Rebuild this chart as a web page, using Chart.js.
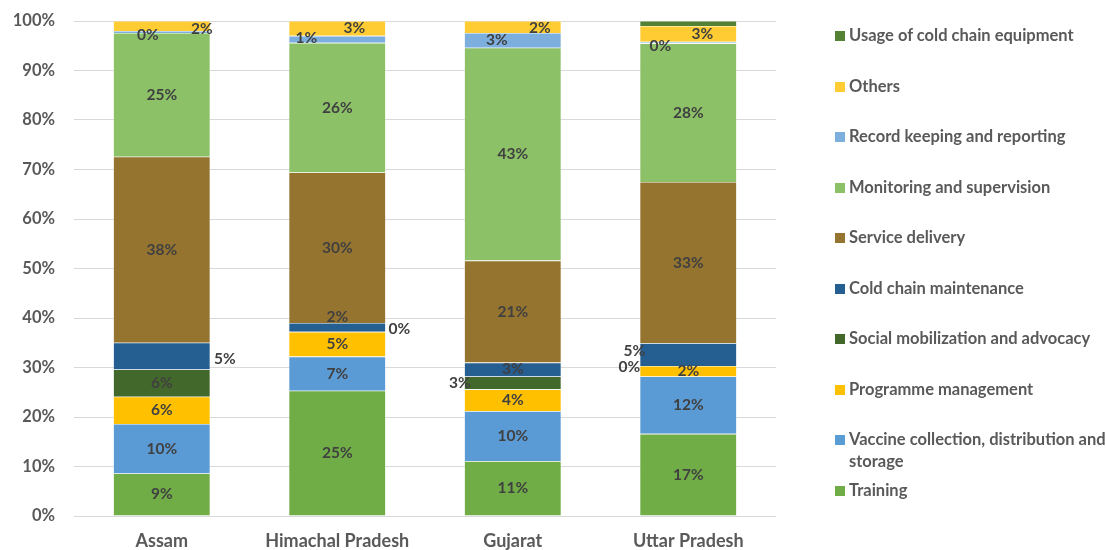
<!DOCTYPE html>
<html>
<head>
<meta charset="utf-8">
<script src="https://cdn.jsdelivr.net/npm/chart.js@4.4.1/dist/chart.umd.min.js"></script>
<style>
    body { margin: 0; background: #fff; }
    #wrap { position: relative; width: 1106px; height: 550px; }
    #legend { position: absolute; left: 835px; top: 24px; font: bold 16.5px Lato, sans-serif; color: #595959; }
    .row { display: flex; align-items: flex-start; height: 50.5px; }
    .box { width: 10px; height: 10px; margin-top: 7px; margin-right: 4px; flex: none; }
    .txt { line-height: 22px; width: 268px; }
</style>
</head>
<body>
<div id="wrap">
    <canvas id="chart" width="1106" height="550"></canvas>
    <div id="legend"></div>
</div>
<script>
const states = ["Assam", "Himachal Pradesh", "Gujarat", "Uttar Pradesh"];

const seriesNames = [
    "Training",
    "Vaccine collection, distribution and storage",
    "Programme management",
    "Social mobilization and advocacy",
    "Cold chain maintenance",
    "Service delivery",
    "Monitoring and supervision",
    "Record keeping and reporting",
    "Others",
    "Usage of cold chain equipment"
];

const seriesColors = ["#70AD47", "#5B9BD5", "#FFC000", "#43682B", "#255E91", "#957430", "#8CC168", "#7CAFDD", "#FFCD33", "#548235"];

// share of each activity per state (%), bottom to top
const training = [8.6, 25.3, 11.1, 16.6];
const vaccineCollection = [10.0, 6.9, 10.1, 11.6];
const programmeManagement = [5.5, 5.0, 4.4, 2.1];
const socialMobilization = [5.5, 0, 2.6, 0];
const coldChainMaintenance = [5.4, 1.8, 2.8, 4.6];
const serviceDelivery = [37.6, 30.4, 20.6, 32.6];
const monitoring = [25.0, 26.2, 43.0, 28.0];
const recordKeeping = [0.4, 1.4, 3.0, 0.3];
const others = [2.0, 3.0, 2.4, 3.2];
const coldChainEquipment = [0, 0, 0, 1.0];

const seriesValues = [training, vaccineCollection, programmeManagement, socialMobilization, coldChainMaintenance,
    serviceDelivery, monitoring, recordKeeping, others, coldChainEquipment];

const yTicks = [0, 10, 20, 30, 40, 50, 60, 70, 80, 90, 100];

// label nudges (series index, state index) -> [dx, dy]
const labelNudge = {
    "7,0": [-14, 3], "8,0": [40, 3], "4,0": [63, 3],
    "7,1": [-31, -1], "8,1": [17, 0], "4,1": [0, -10], "3,1": [62, -3],
    "8,2": [27, 1], "7,2": [-16, 0], "3,2": [-53, 0],
    "8,3": [14, 0], "7,3": [-28, 3], "4,3": [-54, -4], "3,3": [-59, 1]
};

const labelPlugin = {
    id: "segLabels",
    afterDatasetsDraw(chart) {
        const ctx = chart.ctx;
        ctx.save();
        ctx.font = "bold 15.5px Lato, sans-serif";
        ctx.fillStyle = "#404040";
        ctx.textAlign = "center";
        ctx.textBaseline = "middle";
        chart.data.datasets.forEach((ds, i) => {
            if (i === 9) return;
            const meta = chart.getDatasetMeta(i);
            meta.data.forEach((bar, j) => {
                const n = labelNudge[i + "," + j] || [0, 0];
                const y = (bar.y + bar.base) / 2;
                ctx.fillText(Math.round(ds.data[j]) + "%", bar.x + n[0], y + n[1]);
            });
        });
        ctx.restore();
    }
};

const datasets = seriesNames.map((name, i) => ({
    label: name,
    data: seriesValues[i],
    backgroundColor: seriesColors[i],
    borderColor: "rgba(255,255,255,0.5)",
    borderWidth: 0.6,
    categoryPercentage: 0.553,
    barPercentage: 1
}));

new Chart(document.getElementById("chart"), {
    type: "bar",
    data: { labels: states, datasets: datasets },
    options: {
        responsive: false,
        animation: false,
        layout: { padding: { top: 21, right: 330, bottom: 0, left: 0 } },
        plugins: { legend: { display: false }, tooltip: { enabled: false } },
        scales: {
            x: {
                stacked: true,
                grid: { display: false },
                border: { display: false },
                ticks: { color: "#595959", font: { family: "Lato", size: 18, weight: "bold" }, padding: 6 },
                afterFit(scale) { scale.height = 34; }
            },
            y: {
                stacked: true,
                min: 0,
                max: 100,
                afterBuildTicks(scale) { scale.ticks = yTicks.map((v) => ({ value: v })); },
                grid: { color: "#D9D9D9", drawTicks: true, tickLength: 19, tickColor: "rgba(0,0,0,0)" },
                border: { display: false },
                ticks: {
                    color: "#595959",
                    font: { family: "Lato", size: 16.5, weight: "bold" },
                    padding: 0,
                    callback: (v) => v + "%"
                },
                afterFit(scale) { scale.width = 74; }
            }
        }
    },
    plugins: [labelPlugin]
});

const legend = document.getElementById("legend");
for (let i = seriesNames.length - 1; i >= 0; i--) {
    legend.innerHTML += `<div class="row"><div class="box" style="background:${seriesColors[i]}"></div><div class="txt">${seriesNames[i]}</div></div>`;
}
</script>
</body>
</html>
